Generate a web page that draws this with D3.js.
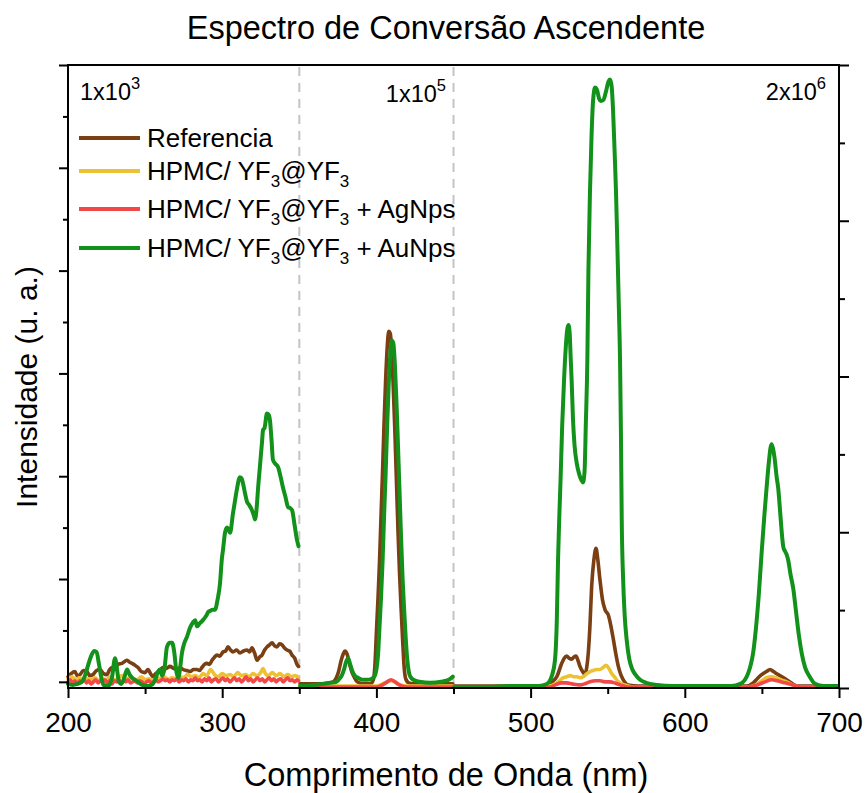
<!DOCTYPE html>
<html>
<head>
<meta charset="utf-8">
<script src="https://cdn.jsdelivr.net/npm/d3@7"></script>
<style>
  html, body { margin: 0; padding: 0; background: #fff; }
  svg { display: block; font-family: "Liberation Sans", Arial, sans-serif; }
</style>
</head>
<body>
<svg id="chart" width="868" height="793"></svg>
<script>
// Upconversion emission spectra, three wavelength windows with their own gain factors.
// Values are intensities already divided by the window's factor.

const seriesNames = ["Referencia", "HPMC/ YF|@YF|", "HPMC/ YF|@YF| + AgNps", "HPMC/ YF|@YF| + AuNps"];
const seriesColors = ["#7a3f12", "#ecc234", "#f24848", "#12921a"];

const windowEdges = [200, 350, 450, 700];
const windowFactors = [["1x10", "3"], ["1x10", "5"], ["2x10", "6"]];

const xTicksMajor = [200, 300, 400, 500, 600, 700];
const xTicksMinor = [250, 350, 450, 550, 650];

// ---- Referencia ----
const refA = [[200,0.05],[202,0.08],[204.5,0.10],[206,0.06],[207.8,0.07],[210,0.11],[212.3,0.10],[214,0.06],[216.2,0.07],[218.5,0.11],[220.8,0.12],[223,0.08],[225.3,0.07],[227,0.12],[228.5,0.14],[230.5,0.12],[232.4,0.17],[235,0.18],[238.3,0.21],[240,0.19],[241.5,0.18],[243.5,0.16],[245.4,0.14],[247.5,0.10],[249.9,0.09],[251.9,0.12],[253.5,0.08],[255.1,0.05],[256.8,0.08],[258.4,0.09],[260,0.12],[261.6,0.14],[263.8,0.13],[266.1,0.15],[268.5,0.13],[270.7,0.12],[272.6,0.14],[274.6,0.12],[277,0.11],[279.1,0.10],[281.5,0.12],[283.7,0.12],[285.3,0.11],[286.9,0.14],[288.5,0.17],[290.1,0.18],[291.8,0.17],[293.4,0.21],[295,0.24],[296.6,0.26],[298.5,0.25],[300.5,0.29],[302.2,0.30],[303.8,0.34],[305.4,0.31],[307,0.29],[309.3,0.31],[311.5,0.28],[313.8,0.30],[316.1,0.31],[317.7,0.29],[319.3,0.33],[321,0.28],[322.6,0.21],[324.2,0.24],[325.8,0.26],[327.5,0.31],[329.1,0.34],[330.7,0.36],[332.3,0.38],[334,0.35],[335.5,0.34],[337.2,0.37],[338.8,0.36],[340.4,0.33],[342,0.31],[343.7,0.30],[345.3,0.26],[347,0.23],[348.5,0.17],[349.5,0.15]];
const refB = [[350.5,-0.02],[355,-0.02],[360,-0.02],[365,-0.02],[369,-0.01],[372,0.0],[374,0.04],[375.5,0.10],[377,0.20],[378.5,0.27],[379.6,0.30],[381,0.27],[382.5,0.18],[384,0.10],[385.5,0.05],[387,0.01],[389,-0.01],[392,-0.02],[396,-0.02],[398,0.02],[399,0.15],[400,0.48],[401,0.80],[402,1.16],[403,1.61],[404,2.05],[405,2.53],[406,2.94],[407,3.25],[408,3.41],[409,3.39],[410,3.20],[411,2.84],[412,2.43],[413,1.95],[414,1.47],[415,1.06],[416,0.72],[417,0.41],[418,0.14],[419,0.03],[421,-0.01],[425,-0.02],[435,-0.02],[449.5,-0.02]];
const refC = [[450.5,-0.04],[480,-0.04],[505,-0.04],[511.3,-0.03],[514,0.0],[517,0.05],[520.2,0.18],[521.8,0.23],[523.4,0.25],[525,0.23],[526.6,0.22],[528,0.24],[529.4,0.25],[530.7,0.21],[532,0.15],[533.7,0.10],[535.3,0.07],[536.4,0.14],[537.4,0.28],[538.5,0.55],[539.6,0.93],[541,1.18],[542.4,1.30],[543.5,1.20],[545,0.99],[546.6,0.80],[548.3,0.70],[550.4,0.65],[552,0.55],[553.7,0.41],[555.3,0.27],[556.9,0.15],[558.5,0.07],[560.1,0.02],[563.4,-0.03],[570,-0.04],[600,-0.04],[640,-0.04],[644.4,-0.01],[647,0.03],[649,0.06],[650.9,0.08],[653,0.10],[655.3,0.12],[657.5,0.10],[660.6,0.07],[663,0.05],[666,0.02],[669,-0.01],[673,-0.04],[699.5,-0.04]];

// ---- HPMC/ YF3@YF3 ----
const yfA = [[200,0.03],[202.5,0.05],[205,0.02],[207.5,0.04],[210,0.01],[212.5,0.03],[215,0.02],[217.5,0.04],[220,0.01],[222.5,0.03],[225,0.02],[227.5,0.05],[230,0.02],[232.5,0.03],[235,0.06],[237.5,0.02],[240,0.04],[242.5,0.03],[245,0.02],[247.5,0.05],[250,0.02],[252.5,0.03],[255,0.01],[257.5,0.04],[260,0.03],[262.5,0.05],[265,0.02],[267.5,0.04],[270,0.03],[272.5,0.05],[275,0.04],[277.5,0.07],[280,0.05],[282.5,0.06],[285,0.04],[287.5,0.08],[290,0.06],[292.5,0.12],[295,0.07],[297.5,0.05],[300,0.08],[302.5,0.06],[305,0.07],[307.5,0.05],[310,0.09],[312.5,0.06],[315,0.07],[317.5,0.05],[320,0.08],[322.5,0.06],[325,0.09],[326.5,0.13],[328,0.08],[330,0.06],[332.5,0.09],[335,0.06],[337.5,0.08],[340,0.05],[342.5,0.07],[345,0.05],[347.5,0.06],[349.5,0.04]];
const yfB = [[350.5,-0.04],[380,-0.04],[400,-0.04],[404,-0.02],[407,0.0],[409.5,0.01],[412,0.0],[415,-0.03],[420,-0.04],[449.5,-0.04]];
const yfC = [[450.5,-0.05],[505,-0.05],[512,-0.04],[514.7,-0.03],[518,0.0],[521.2,0.04],[523.5,0.05],[525.6,0.06],[528,0.05],[529.9,0.05],[532,0.04],[534.2,0.05],[536.5,0.08],[538.5,0.10],[540.5,0.11],[542.8,0.12],[545,0.12],[547,0.14],[548.9,0.16],[550.8,0.13],[552.6,0.08],[554.8,0.04],[556.9,0.0],[559,-0.02],[561.2,-0.03],[566,-0.05],[640,-0.05],[646,-0.03],[650,0.01],[653,0.04],[656.3,0.05],[659,0.04],[662,0.02],[666,0.0],[670,-0.03],[675,-0.05],[699.5,-0.05]];

// ---- HPMC/ YF3@YF3 + AgNps ----
const agA = [[200,0.0],[201.5,0.02],[203,-0.01],[204.5,0.01],[206,-0.02],[207.5,0.01],[209,0.0],[210.5,0.02],[212,-0.01],[213.5,0.01],[215,-0.02],[216.5,0.0],[218,0.02],[219.5,-0.01],[221,0.01],[222.5,0.0],[224,0.02],[225.5,-0.01],[227,0.01],[228.5,-0.02],[230,0.01],[231.5,0.0],[233,0.02],[234.5,-0.01],[236,0.01],[237.5,0.0],[239,0.02],[240.5,-0.01],[242,0.0],[243.5,0.01],[245,-0.01],[246.5,0.01],[248,0.0],[249.5,-0.02],[251,0.0],[252.5,0.01],[254,-0.01],[255.5,0.0],[257,0.02],[258.5,0.0],[260,0.01],[261.5,0.03],[263,0.01],[264.5,0.02],[266,0.0],[267.5,0.02],[269,0.01],[270.5,0.03],[272,0.0],[273.5,0.02],[275,0.01],[276.5,0.03],[278,0.0],[279.5,0.02],[281,0.01],[282.5,0.04],[284,0.01],[285.5,0.02],[287,0.0],[288.5,0.03],[290,0.01],[291.5,0.04],[293,0.0],[294.5,0.02],[296,0.03],[297.5,0.0],[299,0.02],[300.5,0.04],[302,0.01],[303.5,0.03],[305,0.0],[306.5,0.02],[308,0.04],[309.5,0.01],[311,0.03],[312.5,0.0],[314,0.02],[315.5,0.05],[317,0.01],[318.5,0.03],[320,0.0],[321.5,0.02],[323,0.04],[324.5,0.01],[326,0.03],[327.5,0.0],[329,0.02],[330.5,0.04],[332,0.01],[333.5,0.03],[335,0.0],[336.5,0.02],[338,0.03],[339.5,0.0],[341,0.02],[342.5,0.04],[344,0.01],[345.5,0.02],[347,0.0],[348.5,0.02],[349.5,0.01]];
const agB = [[350.5,-0.05],[400,-0.05],[404,-0.03],[407,0.0],[409.5,0.02],[412,0.0],[415,-0.03],[420,-0.05],[449.5,-0.05]];
const agC = [[450.5,-0.05],[505,-0.05],[512.6,-0.05],[516,-0.03],[520,-0.01],[523.4,-0.01],[527,-0.02],[532,-0.03],[535,-0.02],[538.5,0.0],[542,0.01],[545,0.01],[548,0.0],[551.5,0.0],[554.5,-0.01],[558,-0.03],[563,-0.05],[640,-0.05],[647,-0.03],[652,0.0],[656.3,0.02],[660,0.01],[665,-0.01],[670,-0.03],[676,-0.05],[699.5,-0.05]];

// ---- HPMC/ YF3@YF3 + AuNps ----
const auA = [[200,-0.02],[203,-0.03],[206,-0.02],[209,0.0],[211,0.06],[213,0.16],[215,0.25],[217,0.30],[218.5,0.29],[220,0.18],[221.5,0.05],[223,-0.03],[226,-0.04],[228.5,0.04],[230.5,0.23],[231.8,0.12],[233,0.0],[234.5,-0.02],[236.5,0.04],[238.3,0.12],[240,0.07],[241.5,0.04],[243.5,0.02],[245.4,0.0],[248,-0.03],[252,-0.04],[255,-0.02],[256.8,0.03],[258.4,0.10],[259.7,0.12],[261,0.06],[262.5,0.12],[264.2,0.34],[266.1,0.38],[267.5,0.38],[268.8,0.30],[270.3,0.10],[271.5,0.04],[272.6,0.12],[273.9,0.28],[275.5,0.38],[277.2,0.44],[279,0.52],[281.1,0.58],[282.5,0.60],[283.7,0.54],[285.5,0.57],[287.5,0.60],[289.5,0.64],[291,0.68],[292.1,0.69],[293.8,0.70],[295.3,0.70],[297,0.80],[298.6,0.96],[299.8,1.20],[300.5,1.28],[301.8,1.45],[303.1,1.50],[304,1.48],[305.1,1.45],[307,1.64],[308.5,1.78],[309.6,1.88],[311.5,1.99],[312.5,1.98],[313.5,1.93],[315,1.82],[316.1,1.75],[317.5,1.72],[319.3,1.67],[320.5,1.62],[321.3,1.58],[322.5,1.72],[323.2,1.87],[324.5,2.10],[325.8,2.33],[326.5,2.45],[327.5,2.47],[329,2.61],[330,2.60],[331,2.54],[332,2.35],[332.9,2.16],[334.5,2.12],[336.2,2.09],[337.8,2.00],[339.4,1.89],[341,1.80],[342.7,1.70],[344,1.69],[345.3,1.67],[347,1.52],[348.5,1.38],[349.5,1.32]];
const auB = [[350.5,-0.04],[355,-0.04],[360,-0.03],[365,-0.02],[370,-0.01],[374,0.0],[376,0.03],[377.5,0.06],[379,0.12],[380.5,0.20],[381.7,0.23],[383,0.17],[384.5,0.10],[386,0.06],[388,0.04],[391,0.02],[394,0.02],[397,0.03],[399,0.06],[400,0.12],[401,0.25],[402,0.53],[403,0.82],[404,1.17],[405,1.62],[406,2.03],[407,2.50],[408,2.90],[409,3.18],[410,3.32],[411,3.29],[412,3.08],[413,2.73],[414,2.30],[415,1.85],[416,1.40],[417,1.0],[418,0.70],[419,0.43],[420,0.22],[421,0.10],[422,0.05],[424,0.02],[428,0.0],[435,-0.01],[442,0.0],[447,0.02],[449.5,0.05]];
const auC = [[450.5,-0.05],[470,-0.05],[490,-0.04],[505,-0.04],[509,-0.03],[512,0.0],[514,0.07],[515.8,0.21],[517,0.6],[517.8,1.19],[518.6,1.6],[519.5,2.0],[520.5,2.5],[521.7,2.94],[522.8,3.25],[523.7,3.42],[524.5,3.47],[525.3,3.40],[526,3.15],[526.6,2.94],[527.5,2.55],[528.5,2.30],[530,2.12],[531.5,2.02],[533,1.96],[534,1.94],[535,2.05],[535.8,2.5],[536.8,3.13],[537.5,4.0],[538.5,4.76],[539.5,5.3],[540.5,5.65],[541.8,5.78],[543,5.76],[544.5,5.67],[545.5,5.65],[547.2,5.66],[549,5.75],[550.5,5.84],[551.5,5.86],[552.5,5.80],[553.5,5.55],[554.5,5.15],[555.4,4.76],[556.5,4.1],[557.3,3.6],[558,3.13],[558.6,2.4],[559.1,1.58],[560,1.0],[561,0.65],[562.3,0.41],[564,0.22],[566,0.12],[568,0.07],[571,0.02],[575,-0.01],[582,-0.03],[592,-0.04],[630,-0.04],[636,-0.02],[639,0.02],[641,0.08],[643,0.18],[644.3,0.28],[646,0.5],[648,0.85],[649.8,1.25],[651.5,1.6],[653.1,1.9],[654.6,2.15],[655.5,2.27],[656.3,2.31],[657.2,2.27],[658.2,2.18],[659.5,2.0],[660.6,1.88],[662,1.62],[663.2,1.40],[663.9,1.31],[665,1.27],[666,1.24],[667.1,1.18],[668.5,1.05],[670.4,0.9],[672,0.70],[674,0.45],[675.8,0.28],[678,0.14],[681,0.05],[684.5,-0.02],[690,-0.04],[699.5,-0.04]];

const seriesSegments = [
  [refA, refB, refC],
  [yfA, yfB, yfC],
  [agA, agB, agC],
  [auA, auB, auC]
];

// ---------------- drawing ----------------
const svg = d3.select("#chart");
const plotLeft = 68, plotRight = 839, plotTop = 65, plotBottom = 688;

const x = d3.scaleLinear().domain([200, 700]).range([plotLeft, plotRight]);
const y = d3.scaleLinear().domain([-0.06, 6]).range([plotBottom, plotTop]);
const yRight = d3.scaleLinear().domain([0, 4]).range([plotBottom, plotTop]);

// window separators
svg.append("g").selectAll("line")
  .data(windowEdges.slice(1, -1))
  .join("line")
  .attr("x1", d => x(d)).attr("x2", d => x(d))
  .attr("y1", plotTop + 2).attr("y2", plotBottom)
  .attr("stroke", "#c4c4c4").attr("stroke-width", 2)
  .attr("stroke-dasharray", "9,7");

// spectra
const line = d3.line()
  .x(d => x(d[0])).y(d => y(d[1]))
  .curve(d3.curveMonotoneX);

const spectra = svg.append("g")
  .attr("fill", "none")
  .attr("stroke-linejoin", "round")
  .attr("stroke-linecap", "round");

seriesSegments.forEach((segs, i) => {
  segs.forEach(seg => {
    spectra.append("path")
      .datum(seg)
      .attr("d", line)
      .attr("stroke", seriesColors[i])
      .attr("stroke-width", i === 3 ? 4 : 3.6);
  });
});

// frame and axes
const axisStyle = g => {
  g.select(".domain").remove();
  g.selectAll("line").attr("stroke", "#000").attr("stroke-width", 2);
  g.selectAll("text").attr("fill", "#000");
};

svg.append("g")
  .attr("transform", `translate(0,${plotBottom})`)
  .call(d3.axisBottom(x).tickValues(xTicksMajor).tickSize(10).tickPadding(14).tickFormat(d3.format("d")))
  .call(axisStyle)
  .call(g => g.selectAll("text").attr("font-size", 28).attr("font-family", "Liberation Sans, Arial, sans-serif"));

svg.append("g")
  .attr("transform", `translate(0,${plotBottom})`)
  .call(d3.axisBottom(x).tickValues(xTicksMinor).tickSize(6).tickFormat(""))
  .call(axisStyle);

svg.append("g")
  .attr("transform", `translate(${plotLeft},0)`)
  .call(d3.axisLeft(y).tickValues(d3.range(0, 6.01, 1)).tickSize(9).tickFormat(""))
  .call(axisStyle);
svg.append("g")
  .attr("transform", `translate(${plotLeft},0)`)
  .call(d3.axisLeft(y).tickValues(d3.range(0.5, 6, 1)).tickSize(5).tickFormat(""))
  .call(axisStyle);

svg.append("g")
  .attr("transform", `translate(${plotRight},0)`)
  .call(d3.axisRight(yRight).tickValues(d3.range(0, 4.01, 1)).tickSize(10).tickFormat(""))
  .call(axisStyle);
svg.append("g")
  .attr("transform", `translate(${plotRight},0)`)
  .call(d3.axisRight(yRight).tickValues(d3.range(0.5, 4, 1)).tickSize(6).tickFormat(""))
  .call(axisStyle);

svg.append("rect")
  .attr("x", plotLeft).attr("y", plotTop)
  .attr("width", plotRight - plotLeft).attr("height", plotBottom - plotTop)
  .attr("fill", "none").attr("stroke", "#000").attr("stroke-width", 2);

// window gain labels
const factorPos = [
  { x: 80, y: 100, anchor: "start" },
  { x: 446, y: 102, anchor: "end" },
  { x: 826, y: 100, anchor: "end" }
];
windowFactors.forEach((f, i) => {
  const t = svg.append("text")
    .attr("x", factorPos[i].x).attr("y", factorPos[i].y)
    .attr("text-anchor", factorPos[i].anchor)
    .attr("font-size", 23.5).attr("fill", "#000");
  t.append("tspan").text(f[0]);
  t.append("tspan").attr("font-size", 16.5).attr("dy", -11).text(f[1]);
});

// legend; "|" in a name marks a subscript 3
const legend = svg.append("g");
const legendY = [138, 171, 209, 248];
seriesNames.forEach((name, i) => {
  legend.append("line")
    .attr("x1", x(200) + 11).attr("x2", x(200) + 72)
    .attr("y1", legendY[i]).attr("y2", legendY[i])
    .attr("stroke", seriesColors[i]).attr("stroke-width", 4);
  const t = legend.append("text")
    .attr("x", x(200) + 79).attr("y", legendY[i] + 9)
    .attr("font-size", 26).attr("fill", "#000");
  const parts = name.split("|");
  parts.forEach((p, k) => {
    if (p.length) t.append("tspan").attr("dy", k > 0 ? -7 : 0).text(p);
    if (k < parts.length - 1) {
      t.append("tspan").attr("font-size", 17).attr("dy", 7).text("3");
    }
  });
});

// titles
svg.append("text")
  .attr("x", 446).attr("y", 39)
  .attr("text-anchor", "middle")
  .attr("font-size", 32.5).attr("fill", "#000")
  .text("Espectro de Conversão Ascendente");

svg.append("text")
  .attr("x", 446).attr("y", 786)
  .attr("text-anchor", "middle")
  .attr("font-size", 32.5).attr("fill", "#000")
  .text("Comprimento de Onda (nm)");

svg.append("text")
  .attr("transform", "translate(37,387) rotate(-90)")
  .attr("text-anchor", "middle")
  .attr("font-size", 30).attr("fill", "#000")
  .text("Intensidade (u. a.)");
</script>
</body>
</html>
